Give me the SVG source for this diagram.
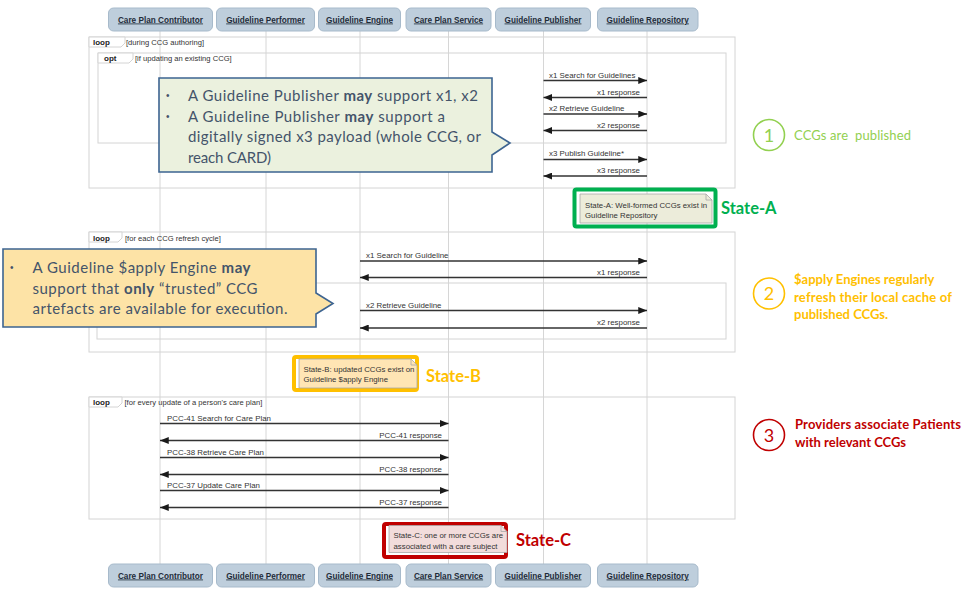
<svg xmlns="http://www.w3.org/2000/svg" width="975" height="593" viewBox="0 0 975 593">
<defs>
<marker id="ah" viewBox="0 0 10 8" refX="10" refY="4" markerWidth="9" markerHeight="7" orient="auto" markerUnits="userSpaceOnUse"><path d="M0,0 L10,4 L0,8 Z" fill="#1a1a1a"/></marker>
</defs>
<style>
.pbox{fill:#BECEDC;stroke:#A7BACB;stroke-width:1}
.ptxt{font-family:"Liberation Sans",Arial,sans-serif;font-size:8.2px;font-weight:bold;fill:#1E2C3A;text-decoration:underline;text-anchor:middle}
.life{stroke:#D6D6D6;stroke-width:1}
.frame{fill:none;stroke:#D4D4D4;stroke-width:1}
.tab{fill:#fff;stroke:#D4D4D4;stroke-width:1}
.kw{font-family:"Liberation Sans",Arial,sans-serif;font-size:8px;font-weight:bold;fill:#222}
.guard{font-family:"Liberation Sans",Arial,sans-serif;font-size:7.6px;fill:#333}
.msg{stroke:#333;stroke-width:1.3;fill:none;marker-end:url(#ah)}
.mt{font-family:"Liberation Sans",Arial,sans-serif;font-size:7.9px;fill:#333}
.mr{font-family:"Liberation Sans",Arial,sans-serif;font-size:7.9px;fill:#333;text-anchor:end}
.nt{font-family:"Liberation Sans",Arial,sans-serif;font-size:7.8px;fill:#333}
.note{stroke:#A8A8A8;stroke-width:0.8}
.co{font-family:Lato,"Open Sans",sans-serif;font-size:15px;fill:#44546A}
.bu{font-family:"Liberation Sans",Arial,sans-serif;font-size:10px;fill:#44546A}
.lg{font-family:Lato,"Open Sans",sans-serif;font-size:13px}
.st{font-family:Lato,"Open Sans",sans-serif;font-size:16.5px;font-weight:bold}
.num{font-family:Lato,"Open Sans",sans-serif;font-size:18px;text-anchor:middle}
</style>
<rect width="975" height="593" fill="#fff"/>

<g id="lifelines">
<line class="life" x1="160" y1="31" x2="160" y2="564"/>
<line class="life" x1="266" y1="31" x2="266" y2="564"/>
<line class="life" x1="360" y1="31" x2="360" y2="564"/>
<line class="life" x1="448.5" y1="31" x2="448.5" y2="564"/>
<line class="life" x1="543.5" y1="31" x2="543.5" y2="564"/>
<line class="life" x1="647" y1="31" x2="647" y2="564"/>
</g>

<g id="participants-top">
<g id="p-contributor"><rect class="pbox" x="108.5" y="8" width="104" height="23" rx="5"/><text class="ptxt" x="160.5" y="22.5">Care Plan Contributor</text></g>
<g id="p-performer"><rect class="pbox" x="216.5" y="8" width="98" height="23" rx="5"/><text class="ptxt" x="265.5" y="22.5">Guideline Performer</text></g>
<g id="p-engine"><rect class="pbox" x="318.5" y="8" width="82" height="23" rx="5"/><text class="ptxt" x="359.5" y="22.5">Guideline Engine</text></g>
<g id="p-careplan"><rect class="pbox" x="406" y="8" width="85" height="23" rx="5"/><text class="ptxt" x="448.5" y="22.5">Care Plan Service</text></g>
<g id="p-publisher"><rect class="pbox" x="495.5" y="8" width="95" height="23" rx="5"/><text class="ptxt" x="543" y="22.5">Guideline Publisher</text></g>
<g id="p-repository"><rect class="pbox" x="597.5" y="8" width="100.5" height="23" rx="5"/><text class="ptxt" x="647.7" y="22.5">Guideline Repository</text></g>
</g>

<g id="participants-bottom">
<g id="p-contributor-b"><rect class="pbox" x="108.5" y="564" width="104" height="23" rx="5"/><text class="ptxt" x="160.5" y="578.5">Care Plan Contributor</text></g>
<g id="p-performer-b"><rect class="pbox" x="216.5" y="564" width="98" height="23" rx="5"/><text class="ptxt" x="265.5" y="578.5">Guideline Performer</text></g>
<g id="p-engine-b"><rect class="pbox" x="318.5" y="564" width="82" height="23" rx="5"/><text class="ptxt" x="359.5" y="578.5">Guideline Engine</text></g>
<g id="p-careplan-b"><rect class="pbox" x="406" y="564" width="85" height="23" rx="5"/><text class="ptxt" x="448.5" y="578.5">Care Plan Service</text></g>
<g id="p-publisher-b"><rect class="pbox" x="495.5" y="564" width="95" height="23" rx="5"/><text class="ptxt" x="543" y="578.5">Guideline Publisher</text></g>
<g id="p-repository-b"><rect class="pbox" x="597.5" y="564" width="100.5" height="23" rx="5"/><text class="ptxt" x="647.7" y="578.5">Guideline Repository</text></g>
</g>

<g id="frames">
<g id="loop1">
<rect class="frame" x="89" y="37" width="646" height="151"/>
<path class="tab" d="M89,37 H125 V43 L121,47 H89 Z"/>
<text class="kw" x="93" y="45">loop</text>
<text class="guard" x="126" y="45">[during CCG authoring]</text>
</g>
<g id="opt1">
<rect class="frame" x="98" y="53" width="628" height="90"/>
<path class="tab" d="M98,53 H133 V59 L129,63 H98 Z"/>
<text class="kw" x="104" y="61">opt</text>
<text class="guard" x="135" y="61">[if updating an existing CCG]</text>
</g>
<g id="loop2">
<rect class="frame" x="89" y="232" width="646" height="120"/>
<path class="tab" d="M89,232 H122 V238 L118,242 H89 Z"/>
<text class="kw" x="93" y="240.5">loop</text>
<text class="guard" x="125" y="240.5">[for each CCG refresh cycle]</text>
<rect class="frame" x="97" y="283" width="629" height="56"/>
</g>
<g id="loop3">
<rect class="frame" x="89" y="397" width="646" height="122"/>
<path class="tab" d="M89,397 H122 V403 L118,407 H89 Z"/>
<text class="kw" x="93" y="405">loop</text>
<text class="guard" x="124.5" y="405">[for every update of a person's care plan]</text>
</g>
</g>

<g id="connectors">
<line class="msg" x1="543.5" y1="80.5" x2="647" y2="80.5"/>
<text class="mt" x="549" y="77.5">x1 Search for Guidelines</text>
<line class="msg" x1="647" y1="97.5" x2="543.5" y2="97.5"/>
<text class="mr" x="640" y="94.5">x1 response</text>
<line class="msg" x1="543.5" y1="114" x2="647" y2="114"/>
<text class="mt" x="549" y="111">x2 Retrieve Guideline</text>
<line class="msg" x1="647" y1="130.5" x2="543.5" y2="130.5"/>
<text class="mr" x="640" y="127.5">x2 response</text>
<line class="msg" x1="543.5" y1="159.5" x2="647" y2="159.5"/>
<text class="mt" x="549" y="156">x3 Publish Guideline*</text>
<line class="msg" x1="647" y1="176" x2="543.5" y2="176"/>
<text class="mr" x="640" y="173">x3 response</text>

<line class="msg" x1="360" y1="261" x2="647" y2="261"/>
<text class="mt" x="366" y="258">x1 Search for Guideline</text>
<line class="msg" x1="647" y1="277.5" x2="360" y2="277.5"/>
<text class="mr" x="640" y="274.5">x1 response</text>
<line class="msg" x1="360" y1="310.5" x2="647" y2="310.5"/>
<text class="mt" x="366" y="307.5">x2 Retrieve Guideline</text>
<line class="msg" x1="647" y1="328" x2="360" y2="328"/>
<text class="mr" x="640" y="325">x2 response</text>

<line class="msg" x1="160" y1="423.5" x2="448.5" y2="423.5"/>
<text class="mt" x="167" y="420.5">PCC-41 Search for Care Plan</text>
<line class="msg" x1="448.5" y1="440.5" x2="160" y2="440.5"/>
<text class="mr" x="442" y="437.5">PCC-41 response</text>
<line class="msg" x1="160" y1="457.5" x2="448.5" y2="457.5"/>
<text class="mt" x="167" y="454.5">PCC-38 Retrieve Care Plan</text>
<line class="msg" x1="448.5" y1="474.5" x2="160" y2="474.5"/>
<text class="mr" x="442" y="471.5">PCC-38 response</text>
<line class="msg" x1="160" y1="490.5" x2="448.5" y2="490.5"/>
<text class="mt" x="167" y="487.5">PCC-37 Update Care Plan</text>
<line class="msg" x1="448.5" y1="507.5" x2="160" y2="507.5"/>
<text class="mr" x="442" y="504.5">PCC-37 response</text>
</g>

<g id="state-a">
<rect x="574.5" y="189.5" width="141" height="37" rx="2" fill="none" stroke="#00B050" stroke-width="4"/>
<path class="note" d="M580,194 H706 L712,200 V223 H580 Z" fill="#ECECDA"/>
<path class="note" d="M706,194 V200 H712" fill="none"/>
<text class="nt" x="585" y="208">State-A: Well-formed CCGs exist in</text>
<text class="nt" x="585" y="218">Guideline Repository</text>
<text class="st" x="721" y="214" fill="#00B050">State-A</text>
</g>

<g id="state-b">
<rect x="294" y="357" width="123" height="33" rx="2" fill="none" stroke="#FFC000" stroke-width="4"/>
<path class="note" d="M299,359 H411 L417,365 V388 H299 Z" fill="#FFE5B4"/>
<path class="note" d="M411,359 V365 H417" fill="none"/>
<text class="nt" x="303.5" y="371.5">State-B: updated CCGs exist on</text>
<text class="nt" x="303.5" y="381.5">Guideline $apply Engine</text>
<text class="st" x="426" y="382" fill="#FFC000">State-B</text>
</g>

<g id="state-c">
<rect x="384" y="524" width="122" height="33" rx="2" fill="none" stroke="#C00000" stroke-width="4"/>
<path class="note" d="M389,525.5 H501 L507,531.5 V552.5 H389 Z" fill="#F2DCDB"/>
<path class="note" d="M501,525.5 V531.5 H507" fill="none"/>
<text class="nt" x="393.5" y="538">State-C: one or more CCGs are</text>
<text class="nt" x="393.5" y="549">associated with a care subject</text>
<text class="st" x="516" y="546" fill="#C00000">State-C</text>
</g>

<g id="callout-publisher">
<path d="M159,78 H492 V132 L510,143 L492,155 V172 H159 Z" fill="#EBF1DE" stroke="#3D6491" stroke-width="1.6"/>
<text class="bu" x="166" y="99">•</text>
<text class="co" x="188" y="101" textLength="290">A Guideline Publisher <tspan font-weight="bold">may</tspan> support x1, x2</text>
<text class="bu" x="166" y="119.5">•</text>
<text class="co" x="188" y="121.5" textLength="257">A Guideline Publisher <tspan font-weight="bold">may</tspan> support a</text>
<text class="co" x="188" y="142" textLength="293">digitally signed x3 payload (whole CCG, or</text>
<text class="co" x="188" y="162.5" textLength="83">reach CARD)</text>
</g>

<g id="callout-engine">
<path d="M3,249 H316 V293 L333,303.5 L316,314 V327 H3 Z" fill="#FDE3A6" stroke="#3D6491" stroke-width="1.6"/>
<text class="bu" x="10" y="271">•</text>
<text class="co" x="32.5" y="273" textLength="218">A Guideline $apply Engine <tspan font-weight="bold">may</tspan></text>
<text class="co" x="32.5" y="293.5" textLength="225">support that <tspan font-weight="bold">only</tspan> “trusted” CCG</text>
<text class="co" x="32.5" y="314" textLength="255">artefacts are available for execution.</text>
</g>

<g id="legend">
<g id="step1">
<circle cx="769" cy="135" r="15.5" fill="none" stroke="#92D050" stroke-width="1.6"/>
<text class="num" x="769" y="141.5" fill="#92D050">1</text>
<text class="lg" x="794" y="139.5" fill="#92D050" xml:space="preserve" style="white-space:pre" textLength="117">CCGs are  published</text>
</g>
<g id="step2">
<circle cx="769" cy="293.5" r="15.5" fill="none" stroke="#FFC000" stroke-width="1.6"/>
<text class="num" x="769" y="300" fill="#FFC000">2</text>
<text class="lg" x="794" y="284" fill="#FFC000" font-weight="bold">$apply Engines regularly</text>
<text class="lg" x="794" y="301.5" fill="#FFC000" font-weight="bold" textLength="158">refresh their local cache of</text>
<text class="lg" x="794" y="318.5" fill="#FFC000" font-weight="bold">published CCGs.</text>
</g>
<g id="step3">
<circle cx="769" cy="435" r="15.5" fill="none" stroke="#C00000" stroke-width="1.6"/>
<text class="num" x="769" y="441.5" fill="#C00000">3</text>
<text class="lg" x="795" y="428.5" fill="#C00000" font-weight="bold" textLength="166">Providers associate Patients</text>
<text class="lg" x="795" y="446.5" fill="#C00000" font-weight="bold">with relevant CCGs</text>
</g>
</g>
</svg>
